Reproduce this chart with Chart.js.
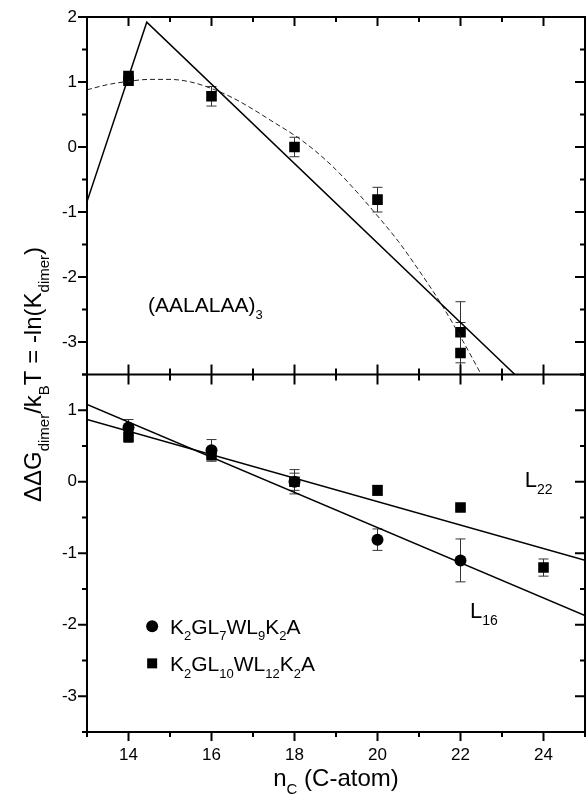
<!DOCTYPE html>
<html>
<head>
<meta charset="utf-8">
<script src="https://cdn.jsdelivr.net/npm/chart.js@4.4.1/dist/chart.umd.min.js"></script>
<style>
  html, body { margin: 0; padding: 0; background: #fff; }
  #wrap { width: 586px; height: 798px; }
</style>
</head>
<body>
<div id="wrap"><canvas id="dimerChart" width="586" height="798"></canvas></div>
<script>
// upper panel: (AALALAA)3
const aalX = [14, 14, 16, 18, 20, 22, 22];
const aalDG = [1.09, 1.02, 0.78, 0.0, -0.81, -2.85, -3.17];
const aalErr = [0.04, 0.04, 0.15, 0.15, 0.19, 0.47, 0.47];

// kinked straight-line fit
const aalFitX = [13, 14.44, 23.31];
const aalFitY = [-0.84, 1.92, -3.5];

// dashed guide curve
const aalCurveX = [13, 13.5, 14, 14.5, 15, 15.5, 16, 16.5, 17, 17.5, 18, 18.5, 19, 19.5, 20, 20.5, 21, 21.5, 22, 22.5];
const aalCurveY = [0.88, 0.96, 1.01, 1.04, 1.04, 1.0, 0.9, 0.76, 0.58, 0.38, 0.18, -0.06, -0.35, -0.69, -1.06, -1.45, -1.9, -2.38, -2.92, -3.5];

// lower panel: K2GL7WL9K2A (circles) and K2GL10WL12K2A (squares)
const l16X = [14, 16, 18, 20, 22];
const l16DG = [0.76, 0.44, 0.0, -0.81, -1.10];
const l16Err = [0.11, 0.15, 0.17, 0.15, 0.30];

const l22X = [14, 16, 18, 20, 22, 24];
const l22DG = [0.63, 0.38, 0.0, -0.12, -0.36, -1.20];
const l22Err = [0.08, 0.09, 0.12, 0.07, 0.03, 0.12];

const l16FitX = [13, 25];
const l16FitY = [1.08, -1.87];
const l22FitX = [13, 25];
const l22FitY = [0.87, -1.10];

const xTicks = [14, 16, 18, 20, 22, 24];
const topTicks = [-3, -2, -1, 0, 1, 2];
const botTicks = [-3, -2, -1, 0, 1];

const FONT = 'Arial, "Liberation Sans", sans-serif';

const pts = (xs, ys) => xs.map((x, i) => ({ x: x, y: ys[i] }));

// text with subscripts: parts = [[text, isSub], ...]
function richWidth(ctx, parts, size) {
  let w = 0;
  for (const [t, sub] of parts) {
    ctx.font = (sub ? Math.round(size * 0.62) : size) + 'px ' + FONT;
    w += ctx.measureText(t).width;
  }
  return w;
}
function richText(ctx, parts, x, y, size) {
  let cx = x;
  for (const [t, sub] of parts) {
    ctx.font = (sub ? Math.round(size * 0.62) : size) + 'px ' + FONT;
    ctx.fillText(t, cx, sub ? y + size * 0.32 : y);
    cx += ctx.measureText(t).width;
  }
}

const errorBars = {
  id: 'errorBars',
  beforeDatasetsDraw(chart) {
    const ctx = chart.ctx;
    const xs = chart.scales.x;
    ctx.save();
    ctx.strokeStyle = '#333';
    ctx.lineWidth = 1;
    chart.data.datasets.forEach(ds => {
      if (!ds.errors) return;
      const ys = chart.scales[ds.yAxisID];
      ds.data.forEach((p, j) => {
        const e = ds.errors[j];
        const px = xs.getPixelForValue(p.x);
        let t = ys.getPixelForValue(p.y + e);
        let b = ys.getPixelForValue(p.y - e);
        const capT = t >= ys.top, capB = b <= ys.bottom;
        t = Math.max(t, ys.top);
        b = Math.min(b, ys.bottom);
        ctx.beginPath();
        ctx.moveTo(px, t); ctx.lineTo(px, b);
        if (capT) { ctx.moveTo(px - 5, t); ctx.lineTo(px + 5, t); }
        if (capB) { ctx.moveTo(px - 5, b); ctx.lineTo(px + 5, b); }
        ctx.stroke();
      });
    });
    ctx.restore();
  }
};

const frame = {
  id: 'frame',
  afterDraw(chart) {
    const { ctx, chartArea: a, scales } = chart;
    const xs = scales.x;
    const mid = scales.yTop.bottom;
    const seg = (x1, y1, x2, y2) => { ctx.beginPath(); ctx.moveTo(x1, y1); ctx.lineTo(x2, y2); ctx.stroke(); };
    ctx.save();
    ctx.strokeStyle = '#000';
    ctx.lineWidth = 2;
    ctx.strokeRect(a.left, a.top, a.right - a.left, a.bottom - a.top);
    seg(a.left, mid, a.right, mid);

    for (let v = xs.min; v <= xs.max; v++) {
      const px = xs.getPixelForValue(v);
      const len = v % 2 === 0 ? 9 : 5;
      seg(px, a.top, px, a.top + len);
      seg(px, mid - len - 1, px, mid + len + 1);
      seg(px, a.bottom, px, a.bottom + len);
    }
    for (const ys of [scales.yTop, scales.yBot]) {
      for (let v = ys.min; v <= ys.max + 1e-9; v += 0.5) {
        const py = ys.getPixelForValue(v);
        const major = Number.isInteger(v);
        seg(a.left - (major ? 9 : 5), py, a.left, py);
        seg(a.right - (major ? 10 : 5), py, a.right, py);
      }
    }
    ctx.restore();
  }
};

const labels = {
  id: 'labels',
  afterDraw(chart) {
    const { ctx, chartArea: a, scales } = chart;
    const xs = scales.x, yT = scales.yTop, yB = scales.yBot;
    ctx.save();
    ctx.fillStyle = '#000';
    ctx.textBaseline = 'alphabetic';
    ctx.textAlign = 'left';

    richText(ctx, [['(AALALAA)', false], ['3', true]],
      xs.getPixelForValue(14.47), yT.getPixelForValue(-2.54), 21);

    richText(ctx, [['L', false], ['22', true]],
      xs.getPixelForValue(23.55), yB.getPixelForValue(-0.07), 22);
    richText(ctx, [['L', false], ['16', true]],
      xs.getPixelForValue(22.23), yB.getPixelForValue(-1.91), 22);

    // legend
    const lx = xs.getPixelForValue(14.57);
    const cy = yB.getPixelForValue(-2.02);
    const sy = yB.getPixelForValue(-2.54);
    ctx.beginPath();
    ctx.arc(lx, cy, 6, 0, Math.PI * 2);
    ctx.fill();
    ctx.fillRect(lx - 5, sy - 5, 10, 10);
    const tx = xs.getPixelForValue(15.0);
    richText(ctx, [['K', false], ['2', true], ['GL', false], ['7', true], ['WL', false], ['9', true], ['K', false], ['2', true], ['A', false]], tx, cy + 7.5, 21);
    richText(ctx, [['K', false], ['2', true], ['GL', false], ['10', true], ['WL', false], ['12', true], ['K', false], ['2', true], ['A', false]], tx, sy + 7.5, 21);

    // x axis title
    const xt = [['n', false], ['C', true], [' (C-atom)', false]];
    const xw = richWidth(ctx, xt, 24);
    richText(ctx, xt, (a.left + a.right) / 2 - xw / 2, 786, 24);

    // y axis title
    const yt = [['\u0394\u0394G', false], ['dimer', true], ['/k', false], ['B', true], ['T = -ln(K', false], ['dimer', true], [')', false]];
    const yw = richWidth(ctx, yt, 24);
    ctx.translate(41, (a.top + a.bottom) / 2);
    ctx.rotate(-Math.PI / 2);
    richText(ctx, yt, -yw / 2, 0, 24);
    ctx.restore();
  }
};

const tickFont = { family: FONT, size: 17 };

const yAxis = (min, max, ticks) => ({
  type: 'linear',
  position: 'left',
  stack: 'panels',
  stackWeight: 1,
  min: min,
  max: max,
  grid: { display: false, drawTicks: false },
  border: { display: false },
  ticks: { font: tickFont, color: '#000', padding: 10 },
  afterBuildTicks: s => { s.ticks = ticks.map(v => ({ value: v })); },
  afterFit: s => { s.width = 87; s.paddingTop = 0; s.paddingBottom = 0; }
});

new Chart(document.getElementById('dimerChart'), {
  type: 'scatter',
  data: {
    datasets: [
      { data: pts(aalFitX, aalFitY), yAxisID: 'yTop', showLine: true, pointRadius: 0, borderColor: '#000', borderWidth: 1.5 },
      { data: pts(aalCurveX, aalCurveY), yAxisID: 'yTop', showLine: true, pointRadius: 0, borderColor: '#222', borderWidth: 1, borderDash: [5, 3], cubicInterpolationMode: 'monotone' },
      { data: pts(aalX, aalDG), errors: aalErr, yAxisID: 'yTop', pointStyle: 'rect', pointRadius: 7.5, backgroundColor: '#000', borderWidth: 0 },
      { data: pts(l16FitX, l16FitY), yAxisID: 'yBot', showLine: true, pointRadius: 0, borderColor: '#000', borderWidth: 1.5 },
      { data: pts(l22FitX, l22FitY), yAxisID: 'yBot', showLine: true, pointRadius: 0, borderColor: '#000', borderWidth: 1.5 },
      { data: pts(l22X, l22DG), errors: l22Err, yAxisID: 'yBot', pointStyle: 'rect', pointRadius: 7.5, backgroundColor: '#000', borderWidth: 0 },
      { data: pts(l16X, l16DG), errors: l16Err, yAxisID: 'yBot', pointStyle: 'circle', pointRadius: 6, backgroundColor: '#000', borderWidth: 0 }
    ]
  },
  options: {
    responsive: false,
    animation: false,
    layout: { autoPadding: false, padding: { top: 17, right: 1, bottom: 0, left: 0 } },
    plugins: { legend: { display: false }, tooltip: { enabled: false } },
    scales: {
      x: {
        type: 'linear',
        min: 13,
        max: 25,
        grid: { display: false, drawTicks: false },
        border: { display: false },
        ticks: { font: tickFont, color: '#000', padding: 13 },
        afterBuildTicks: s => { s.ticks = xTicks.map(v => ({ value: v })); },
        afterFit: s => { s.height = 66; s.paddingLeft = 0; s.paddingRight = 0; }
      },
      yBot: yAxis(-3.5, 1.5, botTicks),
      yTop: yAxis(-3.5, 2, topTicks)
    }
  },
  plugins: [errorBars, frame, labels]
});
</script>
</body>
</html>
